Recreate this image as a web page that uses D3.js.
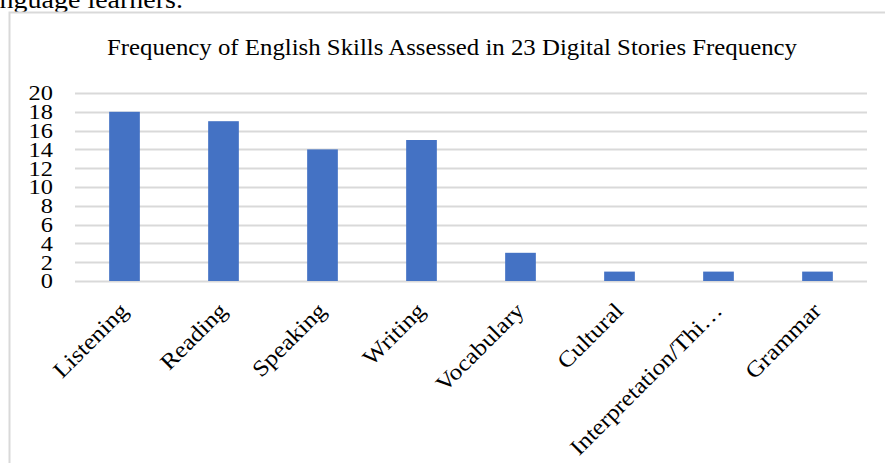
<!doctype html>
<html>
<head>
    <meta charset="utf-8"/>
    <style>
        html, body {
            margin: 0;
            padding: 0;
            background: #fff;
            overflow: hidden;
        }
        svg text {
            font-family: "Liberation Serif", "DejaVu Serif", serif;
            fill: #000;
        }
    </style>
    <script src="https://d3js.org/d3.v7.min.js"></script>
</head>
<body>

<svg width="885" height="463"></svg>

<script>

    // Chart data
    var skills = ["Listening", "Reading", "Speaking", "Writing", "Vocabulary", "Cultural", "Interpretation/Thi\u2026", "Grammar"];
    var counts = [18, 17, 14, 15, 3, 1, 1, 1];
    var yTicks = [0, 2, 4, 6, 8, 10, 12, 14, 16, 18, 20];
    var chartTitle = "Frequency of English Skills Assessed in 23 Digital Stories Frequency";

    var svg = d3.select("svg");
    var width = 885, height = 463;

    // The original uses Cambria, which is wider than Times/Liberation:
    // widen the glyphs a bit along the text direction.
    var widen = 1.12;

    // Leftover line of the document text above the chart (cut off at the top)
    svg.append("text")
        .attr("text-anchor", "end")
        .attr("transform", "translate(183,8) scale(" + widen + ",1)")
        .style("font-size", "25px")
        .text("language learners.");

    // Chart frame
    svg.append("rect")
        .attr("x", 9.5)
        .attr("y", 12.5)
        .attr("width", 900)
        .attr("height", 500)
        .attr("fill", "none")
        .attr("stroke", "#d9d9d9")
        .attr("stroke-width", 2);

    var margin = {left: 75, right: 18, top: 93, bottom: 182};

    var x = d3.scaleBand()
        .domain(skills)
        .range([margin.left, width - margin.right])
        .paddingInner(0.69)
        .paddingOuter(0.345);

    var y = d3.scaleLinear()
        .domain([0, 20])
        .range([height - margin.bottom, margin.top]);

    // Gridlines
    svg.append("g")
        .selectAll("line")
        .data(yTicks)
        .enter()
        .append("line")
        .attr("x1", margin.left)
        .attr("x2", width - margin.right)
        .attr("y1", function(d) { return Math.round(y(d)) + 0.5; })
        .attr("y2", function(d) { return Math.round(y(d)) + 0.5; })
        .attr("stroke", "#d9d9d9")
        .attr("stroke-width", 2);

    // Bars
    svg.append("g")
        .selectAll("rect")
        .data(counts)
        .enter()
        .append("rect")
        .attr("x", function(d, i) { return x(skills[i]); })
        .attr("width", x.bandwidth())
        .attr("y", function(d) { return y(d); })
        .attr("height", function(d) { return y(0) - y(d); })
        .attr("fill", "#4472c4");

    // Y axis labels
    var yAxis = d3.axisLeft(y)
        .tickValues(yTicks)
        .tickSize(0)
        .tickPadding(0);

    var gy = svg.append("g")
        .attr("transform", "translate(53,0)")
        .call(yAxis);
    gy.select(".domain").remove();
    gy.selectAll("text")
        .style("font-size", "20px")
        .attr("x", 0)
        .attr("dy", "0.34em")
        .attr("transform", "scale(1.22,1)");

    // X axis labels, rotated
    var xAxis = d3.axisBottom(x)
        .tickSize(0)
        .tickPadding(0);

    var gx = svg.append("g")
        .attr("transform", "translate(0," + y(0) + ")")
        .call(xAxis);
    gx.select(".domain").remove();
    gx.selectAll("text")
        .style("font-size", "22.5px")
        .attr("text-anchor", "end")
        .attr("dy", "0")
        .attr("y", 0)
        .attr("transform", "translate(5,31) rotate(-45) scale(" + widen + ",1)");

    // Title
    svg.append("text")
        .attr("x", 452)
        .attr("y", 55)
        .attr("text-anchor", "middle")
        .attr("textLength", 690)
        .attr("lengthAdjust", "spacingAndGlyphs")
        .style("font-size", "23px")
        .text(chartTitle);

</script>

</body>
</html>
